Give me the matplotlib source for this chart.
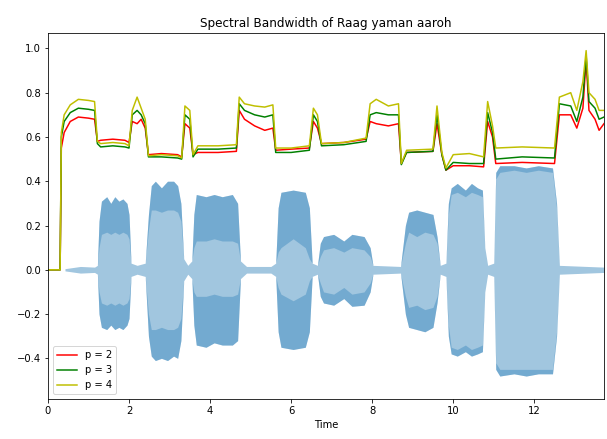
import matplotlib
matplotlib.use("Agg")
import matplotlib.pyplot as plt
import numpy as np

# waveform envelope: time, outer top/bottom, inner (light) top/bottom
wave_t = [0.42, 0.8, 1.15, 1.22,
          1.26, 1.32, 1.45, 1.55, 1.65, 1.75, 1.85, 1.95, 2.0, 2.05, 2.2, 2.4,
          2.48, 2.55, 2.65, 2.8, 2.95, 3.1, 3.2, 3.28, 3.35, 3.45, 3.55,
          3.6, 3.66, 3.9, 4.1, 4.3, 4.55, 4.68, 4.75, 4.9, 5.5, 5.62,
          5.68, 5.75, 6.05, 6.35, 6.45, 6.52, 6.65,
          6.72, 6.8, 7.05, 7.3, 7.5, 7.8, 7.95, 8.02, 8.7,
          8.82, 8.9, 9.1, 9.3, 9.5, 9.6, 9.68, 9.82,
          9.88, 9.95, 10.1, 10.3, 10.45, 10.6, 10.72, 10.78, 10.85, 11.0,
          11.05, 11.15, 11.5, 11.8, 12.1, 12.45, 12.55, 12.62, 13.72]
wave_hi = [0.005, 0.015, 0.012, 0.02,
           0.22, 0.31, 0.33, 0.30, 0.33, 0.31, 0.32, 0.30, 0.25, 0.03, 0.02, 0.03,
           0.25, 0.38, 0.40, 0.37, 0.40, 0.40, 0.38, 0.30, 0.05, 0.02, 0.04,
           0.25, 0.34, 0.33, 0.34, 0.33, 0.34, 0.30, 0.04, 0.015, 0.015, 0.03,
           0.28, 0.35, 0.36, 0.35, 0.28, 0.03, 0.02,
           0.12, 0.15, 0.16, 0.13, 0.16, 0.15, 0.10, 0.02, 0.015,
           0.20, 0.26, 0.27, 0.26, 0.25, 0.15, 0.02, 0.03,
           0.30, 0.37, 0.39, 0.36, 0.39, 0.37, 0.36, 0.10, 0.02, 0.03,
           0.44, 0.47, 0.47, 0.46, 0.47, 0.46, 0.30, 0.02, 0.012]
wave_lo = [-0.005, -0.015, -0.012, -0.02,
           -0.20, -0.26, -0.27, -0.25, -0.27, -0.26, -0.27, -0.25, -0.22, -0.03, -0.02, -0.03,
           -0.30, -0.39, -0.41, -0.40, -0.41, -0.39, -0.40, -0.32, -0.05, -0.02, -0.04,
           -0.25, -0.34, -0.35, -0.33, -0.34, -0.34, -0.32, -0.04, -0.015, -0.015, -0.03,
           -0.28, -0.35, -0.36, -0.35, -0.28, -0.03, -0.02,
           -0.12, -0.15, -0.16, -0.13, -0.165, -0.16, -0.10, -0.02, -0.015,
           -0.20, -0.26, -0.27, -0.28, -0.26, -0.15, -0.02, -0.03,
           -0.30, -0.38, -0.39, -0.37, -0.39, -0.38, -0.37, -0.10, -0.02, -0.03,
           -0.45, -0.48, -0.47, -0.48, -0.47, -0.47, -0.30, -0.02, -0.012]
inner_hi = [0.005, 0.015, 0.012, 0.02,
            0.10, 0.16, 0.17, 0.16, 0.17, 0.16, 0.17, 0.16, 0.14, 0.03, 0.02, 0.03,
            0.18, 0.27, 0.27, 0.26, 0.27, 0.27, 0.26, 0.22, 0.05, 0.02, 0.04,
            0.10, 0.13, 0.13, 0.14, 0.13, 0.13, 0.12, 0.04, 0.015, 0.015, 0.03,
            0.08, 0.10, 0.14, 0.10, 0.05, 0.03, 0.02,
            0.06, 0.09, 0.10, 0.08, 0.10, 0.09, 0.06, 0.02, 0.015,
            0.12, 0.17, 0.15, 0.17, 0.16, 0.12, 0.02, 0.03,
            0.25, 0.34, 0.35, 0.33, 0.35, 0.34, 0.33, 0.10, 0.02, 0.03,
            0.41, 0.44, 0.45, 0.44, 0.45, 0.44, 0.28, 0.02, 0.012]
inner_lo = [-0.005, -0.015, -0.012, -0.02,
            -0.10, -0.15, -0.16, -0.15, -0.16, -0.15, -0.16, -0.15, -0.13, -0.03, -0.02, -0.03,
            -0.20, -0.27, -0.27, -0.26, -0.27, -0.27, -0.26, -0.22, -0.05, -0.02, -0.04,
            -0.10, -0.12, -0.12, -0.11, -0.12, -0.12, -0.11, -0.04, -0.015, -0.015, -0.03,
            -0.08, -0.11, -0.14, -0.11, -0.05, -0.03, -0.02,
            -0.06, -0.10, -0.11, -0.08, -0.11, -0.10, -0.06, -0.02, -0.015,
            -0.12, -0.17, -0.16, -0.18, -0.17, -0.12, -0.02, -0.03,
            -0.25, -0.35, -0.36, -0.34, -0.36, -0.35, -0.34, -0.10, -0.02, -0.03,
            -0.42, -0.45, -0.45, -0.45, -0.45, -0.45, -0.28, -0.02, -0.012]

# normalised spectral bandwidth for p = 2, 3, 4
bw_t = [0.0, 0.30, 0.33, 0.40, 0.55, 0.75, 1.0, 1.15, 1.22, 1.3, 1.6, 1.9, 2.0,
        2.08, 2.2, 2.3, 2.4, 2.48, 2.8, 3.2, 3.3, 3.38, 3.5, 3.58, 3.7, 4.2, 4.65,
        4.72, 4.85, 5.1, 5.35, 5.55, 5.62, 6.0, 6.45, 6.55, 6.65, 6.75, 7.3, 7.85,
        7.95, 8.1, 8.4, 8.65, 8.72, 8.85, 9.5, 9.6, 9.72, 9.82, 10.0, 10.4, 10.75,
        10.85, 10.97, 11.05, 11.7, 12.5, 12.62, 12.9, 13.05, 13.2, 13.28, 13.35,
        13.5, 13.6, 13.72]
bw_p2 = [0, 0, 0.55, 0.62, 0.67, 0.69, 0.685, 0.68, 0.58, 0.585, 0.59, 0.585, 0.575,
         0.67, 0.66, 0.68, 0.64, 0.52, 0.525, 0.52, 0.51, 0.66, 0.64, 0.52, 0.53, 0.53, 0.535,
         0.72, 0.68, 0.65, 0.63, 0.64, 0.54, 0.545, 0.55, 0.67, 0.64, 0.57, 0.575, 0.59,
         0.67, 0.66, 0.65, 0.66, 0.48, 0.53, 0.535, 0.66, 0.52, 0.45, 0.47, 0.47, 0.465,
         0.67, 0.60, 0.48, 0.485, 0.48, 0.70, 0.70, 0.64, 0.73, 0.95, 0.72,
         0.68, 0.63, 0.66]
bw_p3 = [0, 0, 0.60, 0.67, 0.71, 0.73, 0.725, 0.72, 0.57, 0.555, 0.56, 0.555, 0.55,
         0.70, 0.72, 0.70, 0.66, 0.51, 0.51, 0.505, 0.50, 0.70, 0.68, 0.51, 0.545, 0.545, 0.55,
         0.75, 0.72, 0.70, 0.69, 0.70, 0.53, 0.53, 0.54, 0.70, 0.67, 0.56, 0.565, 0.58,
         0.70, 0.71, 0.70, 0.70, 0.475, 0.53, 0.535, 0.70, 0.52, 0.45, 0.485, 0.48, 0.48,
         0.71, 0.62, 0.50, 0.51, 0.505, 0.75, 0.74, 0.67, 0.78, 0.97, 0.76,
         0.73, 0.68, 0.69]
bw_p4 = [0, 0, 0.62, 0.70, 0.745, 0.77, 0.765, 0.76, 0.58, 0.57, 0.575, 0.57, 0.56,
         0.72, 0.78, 0.73, 0.68, 0.515, 0.52, 0.515, 0.505, 0.74, 0.72, 0.52, 0.56, 0.56, 0.565,
         0.78, 0.75, 0.74, 0.735, 0.745, 0.55, 0.55, 0.56, 0.73, 0.70, 0.57, 0.575, 0.595,
         0.75, 0.77, 0.74, 0.75, 0.48, 0.54, 0.545, 0.74, 0.53, 0.46, 0.52, 0.525, 0.51,
         0.76, 0.65, 0.55, 0.555, 0.55, 0.78, 0.80, 0.72, 0.85, 0.99, 0.80,
         0.77, 0.72, 0.72]

fig = plt.figure(figsize=(607 / 72, 439 / 72), dpi=72)
ax = fig.add_axes([0.079, 0.091, 0.916, 0.834])

wc = "#1f77b4"
ax.fill_between(wave_t, wave_lo, wave_hi, color=wc, alpha=0.42, linewidth=0)
ax.fill_between(wave_t, inner_hi, wave_hi, color=wc, alpha=0.35, linewidth=0)
ax.fill_between(wave_t, wave_lo, inner_lo, color=wc, alpha=0.35, linewidth=0)

ax.plot(bw_t, bw_p2, color="r", label="p = 2")
ax.plot(bw_t, bw_p3, color="g", label="p = 3")
ax.plot(bw_t, bw_p4, color="y", label="p = 4")

ax.set_xlim(0, 13.72)
ax.set_ylim(-0.584, 1.07)
ax.set_xticks([0, 2, 4, 6, 8, 10, 12])
ax.set_yticks([-0.4, -0.2, 0.0, 0.2, 0.4, 0.6, 0.8, 1.0])
ax.set_xlabel("Time")
ax.set_title("Spectral Bandwidth of Raag yaman aaroh")
ax.legend(loc="lower left")

fig.savefig("out.png", dpi=72)
